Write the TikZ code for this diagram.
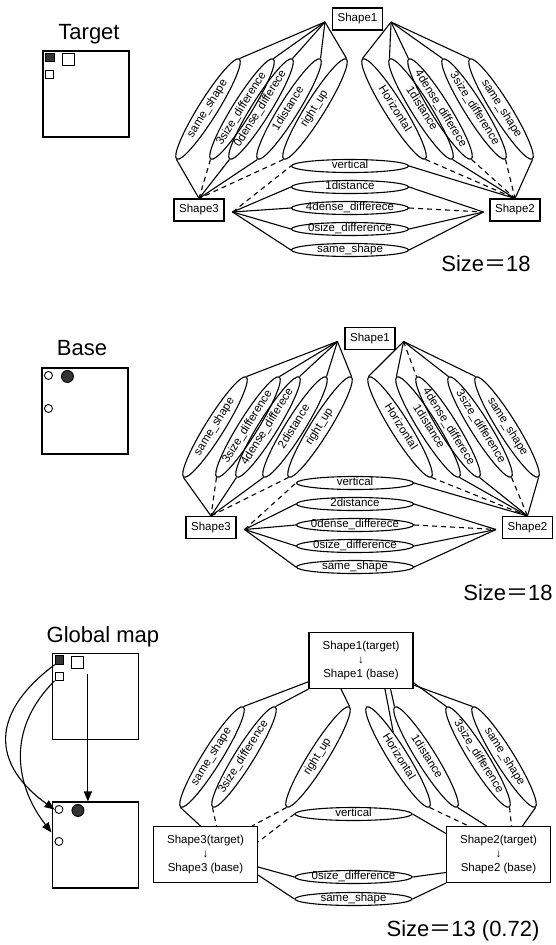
\documentclass[tikz,border=0pt]{standalone}
\usepackage{fontspec}
\setmainfont{Liberation Sans}
\newfontfamily\cjk{Noto Sans CJK SC}
\usetikzlibrary{positioning,shapes.geometric,arrows.meta}
\definecolor{ink}{HTML}{333333}

\begin{document}
\begin{tikzpicture}[x=1pt,y=-1pt,line width=1.1pt,
  shp/.style={draw,inner sep=0pt,minimum width=50,minimum height=22,font=\fontsize{11.5}{13}\selectfont},
  map/.style={draw,inner sep=0pt,minimum width=104,minimum height=56,align=center,font=\fontsize{11.5}{14}\selectfont},
  rel/.style={ellipse,draw,inner sep=0pt,minimum width=118,minimum height=19,
    text height=1.2ex,text depth=.3ex,font=\fontsize{11.5}{13}\selectfont,
    execute at begin node={\hbox to 0pt\bgroup\hss},execute at end node={\hss\egroup}},
  lrel/.style={rel,rotate=58},
  rrel/.style={rel,rotate=-58},
  hrel/.style={rel,minimum width=117,minimum height=13},
  dsh/.style={dash pattern=on 5pt off 4pt},
  ttl/.style={anchor=base,font=\fontsize{22}{26}\selectfont},
  card/.style={draw,minimum size=86,inner sep=0pt},
  sq/.style={draw,line width=0.9pt,inner sep=0pt,minimum size=#1},
  blob/.style={draw,circle,line width=0.9pt,inner sep=0pt,minimum size=#1},
  tip/.style={-{Triangle[length=10pt,width=8pt]}},
  ]
  \useasboundingbox (0,0) rectangle (555,945);

  % ---- target ----
  \node[ttl] (tname) at (89,39.5) {Target};
  \node[card] (tgt) at (86,94) {};
  \node[sq=8.5,fill=ink] (tgta) at ([shift={(7.5,7)}]tgt.north west) {};
  \node[sq=12] (tgtb) at ([shift={(25.5,9)}]tgt.north west) {};
  \node[sq=8] (tgtc) at ([shift={(7,23.5)}]tgt.north west) {};

  \node[shp] (t1) at (357.5,19) {Shape1};
  \node[shp] (t3) at (199,210) {Shape3};
  \node[shp] (t2) at (515,210) {Shape2};
  \coordinate (t1w) at ([shift={(-7,3)}]t1.west);
  \coordinate (t1e) at ([shift={(8,3)}]t1.east);
  \coordinate (t3e) at ([shift={(8,2)}]t3.east);
  \coordinate (t2w) at ([shift={(-6,2)}]t2.west);

  \node[lrel] (tl1) at (208,109) {same\_shape};
  \node[lrel] (tl2) at (242,109) {3size\_difference};
  \node[lrel] (tl3) at (261,109) {0dense\_differece};
  \node[lrel] (tl4) at (289,109) {1distance};
  \node[lrel] (tl5) at (315,109) {right\_up};
  \node[rrel] (tr1) at (394,109) {Horizontal};
  \node[rrel] (tr2) at (421,109) {1distance};
  \node[rrel] (tr3) at (440,109) {4dense\_differece};
  \node[rrel] (tr4) at (474,109) {3size\_difference};
  \node[rrel] (tr5) at (501,109) {same\_shape};
  \node[hrel] (th1) at (350,166) {vertical};
  \node[hrel] (th2) at (350,187) {1distance};
  \node[hrel] (th3) at (350,208) {4dense\_differece};
  \node[hrel] (th4) at (350,229) {0size\_difference};
  \node[hrel] (th5) at (350,250) {same\_shape};

  \foreach \i in {1,...,5}{
    \draw (t1w) -- (tl\i.east);
    \draw (t1e) -- (tr\i.west);
  }
  \draw (tl1.west) -- (t3.north);
  \draw[dsh] (tl2.west) -- (t3.north);
  \draw (tl3.west) -- (t3.north);
  \draw (tl4.west) -- (t3.north);
  \draw[dsh] (tl5.west) -- (t3.north);
  \draw[dsh] (tr1.east) -- (t2.north);
  \draw (tr2.east) -- (t2.north);
  \draw[dsh] (tr3.east) -- (t2.north);
  \draw[dsh] (tr4.east) -- (t2.north);
  \draw (tr5.east) -- (t2.north);
  \draw[dsh] (t3e) -- (th1.west);
  \draw (th1.east) -- (t2.north);
  \draw (t3e) -- (th2.west) (th2.east) -- (t2w);
  \draw (t3e) -- (th3.west);
  \draw[dsh] (th3.east) -- (t2w);
  \draw (t3e) -- (th4.west) (th4.east) -- (t2w);
  \draw (t3e) -- (th5.west) (th5.east) -- (t2w);
  \node[ttl] (tsize) at (486,271) {Size{\cjk ＝}18};

  % ---- base ----
  \node[ttl] (bname) at (82,355) {Base};
  \node[card] (bas) at (85,411) {};
  \node[blob=8] (basa) at ([shift={(7,8)}]bas.north west) {};
  \node[blob=12,fill=ink] (basb) at ([shift={(26,9)}]bas.north west) {};
  \node[blob=8] (basc) at ([shift={(7,41)}]bas.north west) {};

  \node[shp] (b1) at (370,338.5) {Shape1};
  \node[shp] (b3) at (211,527.5) {Shape3};
  \node[shp] (b2) at (527.5,527.5) {Shape2};
  \coordinate (b1w) at ([shift={(-7,3)}]b1.west);
  \coordinate (b1e) at ([shift={(8,3)}]b1.east);
  \coordinate (b3e) at ([shift={(8,2)}]b3.east);
  \coordinate (b2w) at ([shift={(-6,2)}]b2.west);

  \node[lrel] (bl1) at (215,427) {same\_shape};
  \node[lrel] (bl2) at (248,427) {3size\_difference};
  \node[lrel] (bl3) at (268,427) {4dense\_differece};
  \node[lrel] (bl4) at (295,427) {2distance};
  \node[lrel] (bl5) at (320,427) {right\_up};
  \node[rrel] (br1) at (400,427) {Horizontal};
  \node[rrel] (br2) at (428,427) {1distance};
  \node[rrel] (br3) at (448,427) {4dense\_differece};
  \node[rrel] (br4) at (480,427) {3size\_difference};
  \node[rrel] (br5) at (507,427) {same\_shape};
  \node[hrel] (bh1) at (355,483) {vertical};
  \node[hrel] (bh2) at (355,504) {2distance};
  \node[hrel] (bh3) at (355,525) {0dense\_differece};
  \node[hrel] (bh4) at (355,546) {0size\_difference};
  \node[hrel] (bh5) at (355,567) {same\_shape};

  \foreach \i in {1,...,5}
    \draw (b1w) -- (bl\i.east);
  \foreach \i in {1,2,4,5}
    \draw (b1e) -- (br\i.west);
  \draw[dsh] (b1e) -- (br3.west);
  \draw (bl1.west) -- (b3.north);
  \draw[dsh] (bl2.west) -- (b3.north);
  \draw (bl3.west) -- (b3.north);
  \draw (bl4.west) -- (b3.north);
  \draw[dsh] (bl5.west) -- (b3.north);
  \draw[dsh] (br1.east) -- (b2.north);
  \draw (br2.east) -- (b2.north);
  \draw (br3.east) -- (b2.north);
  \draw[dsh] (br4.east) -- (b2.north);
  \draw (br5.east) -- (b2.north);
  \draw[dsh] (b3e) -- (bh1.west);
  \draw (bh1.east) -- (b2.north);
  \draw (b3e) -- (bh2.west) (bh2.east) -- (b2w);
  \draw (b3e) -- (bh3.west);
  \draw[dsh] (bh3.east) -- (b2w);
  \draw (b3e) -- (bh4.west) (bh4.east) -- (b2w);
  \draw (b3e) -- (bh5.west) (bh5.east) -- (b2w);
  \node[ttl] (bsize) at (508,600) {Size{\cjk ＝}18};

  % ---- global map ----
  \node[ttl] (gname) at (103,642) {Global map};
  \node[card] (gmt) at (95.5,696.5) {};
  \node[sq=8.5,fill=ink] (gmta) at ([shift={(7.5,7)}]gmt.north west) {};
  \node[sq=12] (gmtb) at ([shift={(25.5,9)}]gmt.north west) {};
  \node[sq=8] (gmtc) at ([shift={(7,23.5)}]gmt.north west) {};
  \node[card] (gmb) at (95.5,845) {};
  \node[blob=8] (gmba) at ([shift={(7,8)}]gmb.north west) {};
  \node[blob=12,fill=ink] (gmbb) at ([shift={(26,9)}]gmb.north west) {};
  \node[blob=8] (gmbc) at ([shift={(7,40)}]gmb.north west) {};
  \coordinate (gmfrom) at ([shift={(4,6)}]gmtb.south east);
  \coordinate (gmto) at (gmfrom |- gmb.north);
  \coordinate (gmtip) at ([shift={(-3,-9)}]gmbc.west);
  \draw[tip] (gmfrom) -- (gmto);
  \draw[tip] (gmta.south west) .. controls +(-72,54) and +(-56,-40) .. (gmba.west);
  \draw[tip] (gmtc.south west) .. controls +(-50,50) and +(-35,-45) .. (gmtip);

  \node[map] (g1) at (361,660.5) {Shape1(target)\\↓\\Shape1 (base)};
  \node[map] (g3) at (205.5,854.5) {Shape3(target)\\↓\\Shape3 (base)};
  \node[map] (g2) at (498.5,854.5) {Shape2(target)\\↓\\Shape2 (base)};

  \node[lrel] (gl1) at (212,757) {same\_shape};
  \node[lrel] (gl2) at (244,757) {3size\_difference};
  \node[lrel] (gl3) at (318,757) {right\_up};
  \node[rrel] (gr1) at (398,757) {Horizontal};
  \node[rrel] (gr2) at (426,757) {1distance};
  \node[rrel] (gr3) at (478,757) {3size\_difference};
  \node[rrel] (gr4) at (504,757) {same\_shape};
  \node[hrel] (gh1) at (353.5,814) {vertical};
  \node[hrel] (gh2) at (353.5,877) {0size\_difference};
  \node[hrel] (gh3) at (353.5,899) {same\_shape};

  \draw (g1.202) -- (gl1.east);
  \draw (g1.south west) -- (gl2.east);
  \draw (g1.235) -- (gl3.east);
  \draw (g1.310) -- (gr1);
  \draw (g1.316) -- (gr2.west);
  \draw (g1.337) -- (gr3.west);
  \draw (g1.335) -- (gr4.west);
  \draw (gl1.west) -- ([xshift=-5pt]g3.north);
  \draw[dsh] (gl2.west) -- ([xshift=11pt]g3.north);
  \draw[dsh] (gl3.west) -- ([xshift=-6pt]g3.north east);
  \draw[dsh] (gh1.west) -- ([yshift=12.5pt]g3.east);
  \draw ([yshift=-12.5pt]g3.east) -- (gh2.west);
  \draw ([yshift=-20.5pt]g3.east) -- (gh3.west);
  \draw (gh1.east) -- ([yshift=21pt]g2.west);
  \draw[dsh] (gr1.east) -- ([xshift=-30pt]g2.north);
  \draw (gr2.east) -- ([xshift=-12pt]g2.north);
  \draw[dsh] (gr3.east) -- ([xshift=13pt]g2.north);
  \draw (gr4.east) -- ([xshift=24pt]g2.north);
  \draw (gh2.east) -- ([yshift=-18pt]g2.west);
  \draw (gh3.east) -- (g2.south west);
  \node[ttl] (gsize) at (463,936) {Size{\cjk ＝}13 (0.72)};
\end{tikzpicture}
\end{document}
